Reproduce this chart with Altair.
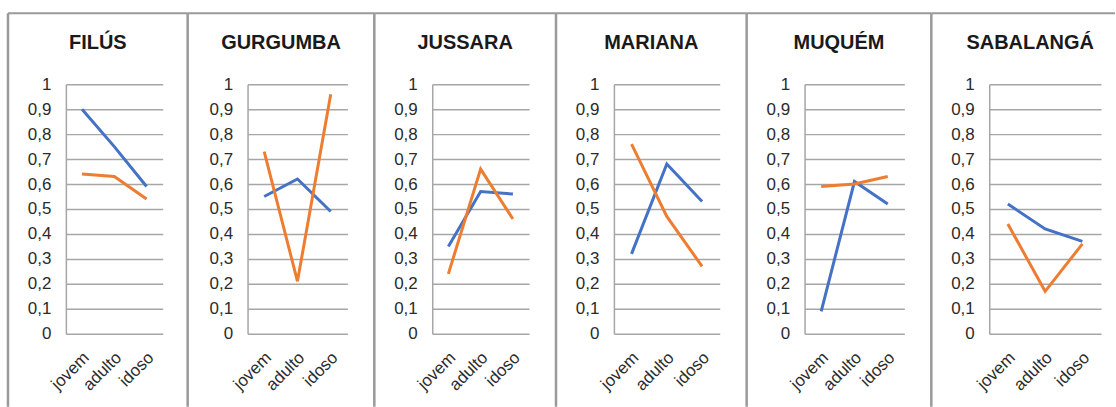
import altair as alt
import pandas as pd

# Localidades (um painel por localidade) e faixas etárias
localidades = ["FILÚS", "GURGUMBA", "JUSSARA", "MARIANA", "MUQUÉM", "SABALANGÁ"]
faixas = ["jovem", "adulto", "idoso"]
series = ["serie_1", "serie_2"]
cores = ["#4472C4", "#ED7D31"]

# Índices por faixa etária (jovem, adulto, idoso), na ordem das localidades
serie_1 = [
    [0.90, 0.75, 0.59],
    [0.55, 0.62, 0.49],
    [0.35, 0.57, 0.56],
    [0.32, 0.68, 0.53],
    [0.09, 0.61, 0.52],
    [0.52, 0.42, 0.37],
]
serie_2 = [
    [0.64, 0.63, 0.54],
    [0.73, 0.21, 0.96],
    [0.24, 0.66, 0.46],
    [0.76, 0.47, 0.27],
    [0.59, 0.60, 0.63],
    [0.44, 0.17, 0.36],
]
marcas_y = [0, 0.1, 0.2, 0.3, 0.4, 0.5, 0.6, 0.7, 0.8, 0.9, 1]

# Geometria dos painéis (pixels)
larguras = [97, 100, 97, 106, 100, 112]
espaco = 85
altura = 250
esq_plot = [65, 247, 432, 614, 805, 990]
esq_moldura = [7, 187, 374, 556, 747, 932, 1130]
topo_plot = 83
topo_moldura = 12

FONTE = "Liberation Sans"
COR_GRADE = "#a6a6a6"
COR_MOLDURA = "#9a9a9a"
COR_TEXTO = "#2b2b2b"


def painel(i):
    nome = localidades[i]
    linhas = []
    for s, vals in zip(series, (serie_1[i], serie_2[i])):
        for f, v in zip(faixas, vals):
            linhas.append({"faixa": f, "valor": v, "serie": s})
    df = pd.DataFrame(linhas)

    linhas_chart = alt.Chart(df).mark_line(strokeWidth=3).encode(
        x=alt.X(
            "faixa:N",
            sort=faixas,
            scale=alt.Scale(type="point", padding=0.5),
            axis=alt.Axis(
                title=None,
                domain=False,
                ticks=False,
                labelAngle=315,
                labelAlign="right",
                labelBaseline="middle",
                labelPadding=21,
                labelOffset=4,
                labelFont=FONTE,
                labelFontSize=17,
                labelColor=COR_TEXTO,
                labelOverlap=False,
            ),
        ),
        y=alt.Y(
            "valor:Q",
            scale=alt.Scale(domain=[0, 1], nice=False),
            axis=alt.Axis(
                title=None,
                values=marcas_y,
                labelExpr="replace(format(datum.value, '.1~f'), '.', ',')",
                ticks=False,
                domain=True,
                domainColor=COR_GRADE,
                domainWidth=1.5,
                grid=True,
                gridColor=COR_GRADE,
                gridWidth=1.5,
                labelPadding=15,
                labelFont=FONTE,
                labelFontSize=17,
                labelColor=COR_TEXTO,
            ),
        ),
        color=alt.Color(
            "serie:N",
            scale=alt.Scale(domain=series, range=cores),
            legend=None,
        ),
    )

    um = pd.DataFrame({"t": [nome]})
    x0 = esq_moldura[i] - esq_plot[i]
    x1 = esq_moldura[i + 1] - esq_plot[i]
    if i == len(localidades) - 1:
        x1 = 1116 - esq_plot[i]
    y0 = topo_moldura - topo_plot
    y1 = 406 - topo_plot

    borda_esq = alt.Chart(um).mark_rule(color=COR_MOLDURA, strokeWidth=2.5).encode(
        x=alt.value(x0), y=alt.value(y0), y2=alt.value(y1)
    )
    borda_topo = alt.Chart(um).mark_rule(color=COR_MOLDURA, strokeWidth=2).encode(
        x=alt.value(x0), x2=alt.value(x1), y=alt.value(y0)
    )
    centro = (esq_moldura[i] + esq_moldura[i + 1]) / 2 - esq_plot[i]
    titulo = alt.Chart(um).mark_text(
        font=FONTE, fontSize=20, fontWeight="bold", color="#1a1a1a",
        align="center", baseline="alphabetic",
    ).encode(text="t:N", x=alt.value(centro), y=alt.value(48 - topo_plot))

    return alt.layer(borda_esq, borda_topo, linhas_chart, titulo).properties(
        width=larguras[i], height=altura
    )


chart = alt.hconcat(
    *[painel(i) for i in range(len(localidades))],
    spacing=espaco,
    bounds="flush",
).properties(
    padding={"left": 6, "top": 11, "right": 0, "bottom": 0},
    autosize=alt.AutoSizeParams(type="pad"),
).configure_view(stroke=None)

chart.save("out.html", embed_options={"renderer": "svg", "actions": False})
